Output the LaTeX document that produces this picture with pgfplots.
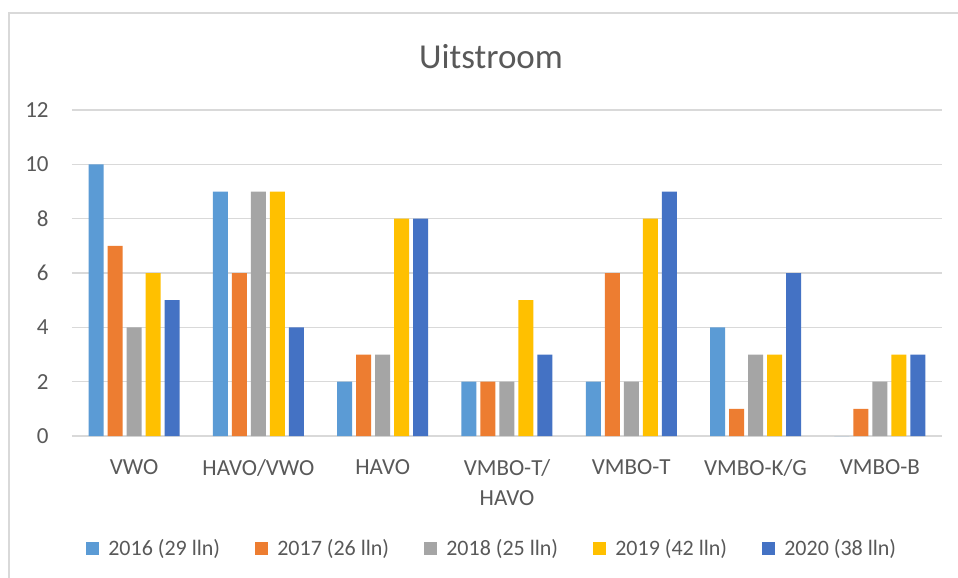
\documentclass[border=0pt]{standalone}
\usepackage{pgfplots}
\pgfplotsset{compat=1.18}
\usepackage{fontspec}
\setmainfont{Carlito}
\definecolor{cA}{HTML}{5B9BD5}
\definecolor{cB}{HTML}{ED7D31}
\definecolor{cC}{HTML}{A5A5A5}
\definecolor{cD}{HTML}{FFC000}
\definecolor{cE}{HTML}{4472C4}
\definecolor{txt}{HTML}{595959}
\definecolor{gridc}{HTML}{D9D9D9}
\begin{document}
\begin{tikzpicture}
\useasboundingbox (-36pt,-71pt) rectangle (443pt,218pt);
\fill[white] (-36pt,-71pt) rectangle (443pt,218pt);
\draw[gridc, line width=1pt] (-31.5pt,-71pt) -- (-31.5pt,211.5pt) -- (443pt,211.5pt);
\begin{axis}[
  at={(0,0)}, anchor=south west,
  scale only axis, width=435pt, height=163pt,
  xmin=-0.5, xmax=6.5, ymin=0, ymax=12,
  ytick={0,2,...,12},
  xtick={0,...,6},
  xticklabels={VWO, HAVO/VWO, HAVO, VMBO-T/\\HAVO, VMBO-T, VMBO-K/G, VMBO-B},
  axis line style={draw=none},
  major tick length=0pt,
  ymajorgrids, grid style={gridc, line width=0.8pt},
  ybar=2pt, bar width=7.5pt,
  tick label style={text=txt, font=\fontsize{11.5}{15}\selectfont},
  /pgf/number format/assume math mode=true,
  yticklabel style={inner sep=0pt, anchor=east, xshift=-11.5pt},
  xticklabel style={inner sep=0pt, align=center, anchor=north, yshift=-11.8pt},
  legend columns=5,
  legend style={at={(axis description cs:0.016,-0.3466)}, anchor=west, draw=none, fill=none,
    font=\fontsize{11}{13}\selectfont, text=txt, column sep=0pt, inner sep=0pt,
    nodes={inner sep=0pt}},
  legend cell align=left,
]
\addplot[fill=cA, draw=none, legend image code/.code={\fill[cA] (0pt,-3.25pt) rectangle (6.5pt,3.25pt);}]
  coordinates {(0,10) (1,9) (2,2) (3,2) (4,2) (5,4) (6,0)};
\addlegendentry{\hspace*{4.5pt}\makebox[73.5pt][l]{2016 (29 lln)}}
\addplot[fill=cB, draw=none, legend image code/.code={\fill[cB] (0pt,-3.25pt) rectangle (6.5pt,3.25pt);}]
  coordinates {(0,7) (1,6) (2,3) (3,2) (4,6) (5,1) (6,1)};
\addlegendentry{\hspace*{4.5pt}\makebox[73.5pt][l]{2017 (26 lln)}}
\addplot[fill=cC, draw=none, legend image code/.code={\fill[cC] (0pt,-3.25pt) rectangle (6.5pt,3.25pt);}]
  coordinates {(0,4) (1,9) (2,3) (3,2) (4,2) (5,3) (6,2)};
\addlegendentry{\hspace*{4.5pt}\makebox[73.5pt][l]{2018 (25 lln)}}
\addplot[fill=cD, draw=none, legend image code/.code={\fill[cD] (0pt,-3.25pt) rectangle (6.5pt,3.25pt);}]
  coordinates {(0,6) (1,9) (2,8) (3,5) (4,8) (5,3) (6,3)};
\addlegendentry{\hspace*{4.5pt}\makebox[73.5pt][l]{2019 (42 lln)}}
\addplot[fill=cE, draw=none, legend image code/.code={\fill[cE] (0pt,-3.25pt) rectangle (6.5pt,3.25pt);}]
  coordinates {(0,5) (1,4) (2,8) (3,3) (4,9) (5,6) (6,3)};
\addlegendentry{\hspace*{4.5pt}\makebox[73.5pt][l]{2020 (38 lln)}}
\end{axis}
\node[font=\fontsize{17.5}{20}\selectfont, text=txt] at (209.5pt,189.5pt) {Uitstroom};
\end{tikzpicture}
\end{document}
